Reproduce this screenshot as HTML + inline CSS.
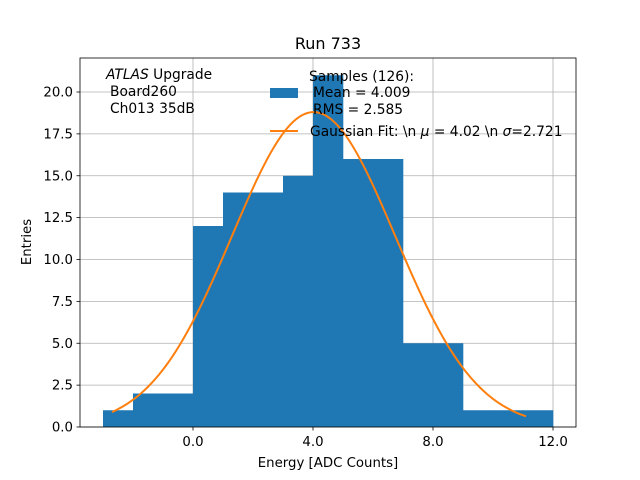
<!DOCTYPE html>
<html><head><meta charset="utf-8"><style>
body{margin:0;background:#fff}
svg{display:block;font-family:"DejaVu Sans","Liberation Sans",sans-serif}
</style></head><body>
<svg id="chart" width="640" height="480">
<rect width="640" height="480" fill="#fff"/>
<g id="grid"></g>
<g id="bars"></g>
<path id="fit" fill="none" stroke="#ff7f0e" stroke-width="2"/>
<rect x="80" y="58" width="496" height="369" fill="none" stroke="#000" stroke-width="0.8"/>
<g id="ticks" font-size="13.3"></g>
<text x="328" y="49" font-size="16" text-anchor="middle">Run 733</text>
<text x="328" y="467" font-size="13.3" text-anchor="middle">Energy [ADC Counts]</text>
<text transform="translate(31,242) rotate(-90)" font-size="13.3" text-anchor="middle">Entries</text>
<g font-size="13.8">
<text x="106" y="79"><tspan font-style="italic">ATLAS</tspan> Upgrade</text>
<text x="110" y="96">Board260</text>
<text x="110" y="113">Ch013 35dB</text>
</g>
<g font-size="13.8">
<rect x="270" y="88" width="28" height="10" fill="#1f77b4"/>
<text x="309" y="81">Samples (126):</text>
<text x="313" y="97">Mean = 4.009</text>
<text x="313" y="114">RMS = 2.585</text>
<line x1="270" y1="131" x2="298" y2="131" stroke="#ff7f0e" stroke-width="2"/>
<text x="310" y="136">Gaussian Fit: \n <tspan font-style="italic">μ</tspan> = 4.02 \n <tspan font-style="italic">σ</tspan>=2.721</text>
</g>
</svg>
<script>
const binEdges=[-3,-2,-1,0,1,2,3,4,5,6,7,8,9,10,11,12];
const counts=[1,2,2,12,14,14,15,21,16,16,5,5,1,1,1];
const xTicks=[0,4,8,12];
const xTickLabels=["0.0","4.0","8.0","12.0"];
const yTicks=[0,2.5,5,7.5,10,12.5,15,17.5,20];
const yTickLabels=["0.0","2.5","5.0","7.5","10.0","12.5","15.0","17.5","20.0"];
const fitMu=[4.02];
const fitSigma=[2.721];
const fitAmp=[18.8];
const fitRange=[-2.7,11.1];
const NS="http://www.w3.org/2000/svg";
const X=v=>193+v*30;
const Y=v=>427-v*16.75;
function mk(t,a,p){const e=document.createElementNS(NS,t);for(const k in a)e.setAttribute(k,a[k]);p.appendChild(e);return e;}
const grid=document.getElementById('grid'),bars=document.getElementById('bars'),ticks=document.getElementById('ticks');
xTicks.forEach((v,i)=>{
 const g=mk('line',{x1:X(v),x2:X(v),y1:58,y2:427,stroke:'#b0b0b0','stroke-width':0.8},grid);
 
 
 mk('line',{x1:X(v),x2:X(v),y1:427,y2:430.5,stroke:'#000','stroke-width':0.8},ticks);
 const t=mk('text',{x:X(v),y:446,'text-anchor':'middle'},ticks);t.textContent=xTickLabels[i];
 
 
});
yTicks.forEach((v,i)=>{
 const g=mk('line',{x1:80,x2:576,y1:Y(v),y2:Y(v),stroke:'#b0b0b0','stroke-width':0.8},grid);
 
 
 mk('line',{x1:76.5,x2:80,y1:Y(v),y2:Y(v),stroke:'#000','stroke-width':0.8},ticks);
 const t=mk('text',{x:73,y:Y(v)+4.5,'text-anchor':'end'},ticks);t.textContent=yTickLabels[i];
 
 
});
counts.forEach((c,i)=>{
 const r=mk('rect',{x:X(binEdges[i]),y:Y(c),width:X(binEdges[i+1])-X(binEdges[i])+0.3,height:Y(0)-Y(c),fill:'#1f77b4'},bars);
 
 
});
let d='';const n=200;
for(let k=0;k<=n;k++){const x=fitRange[0]+(fitRange[1]-fitRange[0])*k/n;
 const y=fitAmp[0]*Math.exp(-((x-fitMu[0])**2)/(2*fitSigma[0]**2));
 d+=(k?'L':'M')+X(x).toFixed(2)+','+Y(y).toFixed(2);}
document.getElementById('fit').setAttribute('d',d);
</script>
</body></html>
